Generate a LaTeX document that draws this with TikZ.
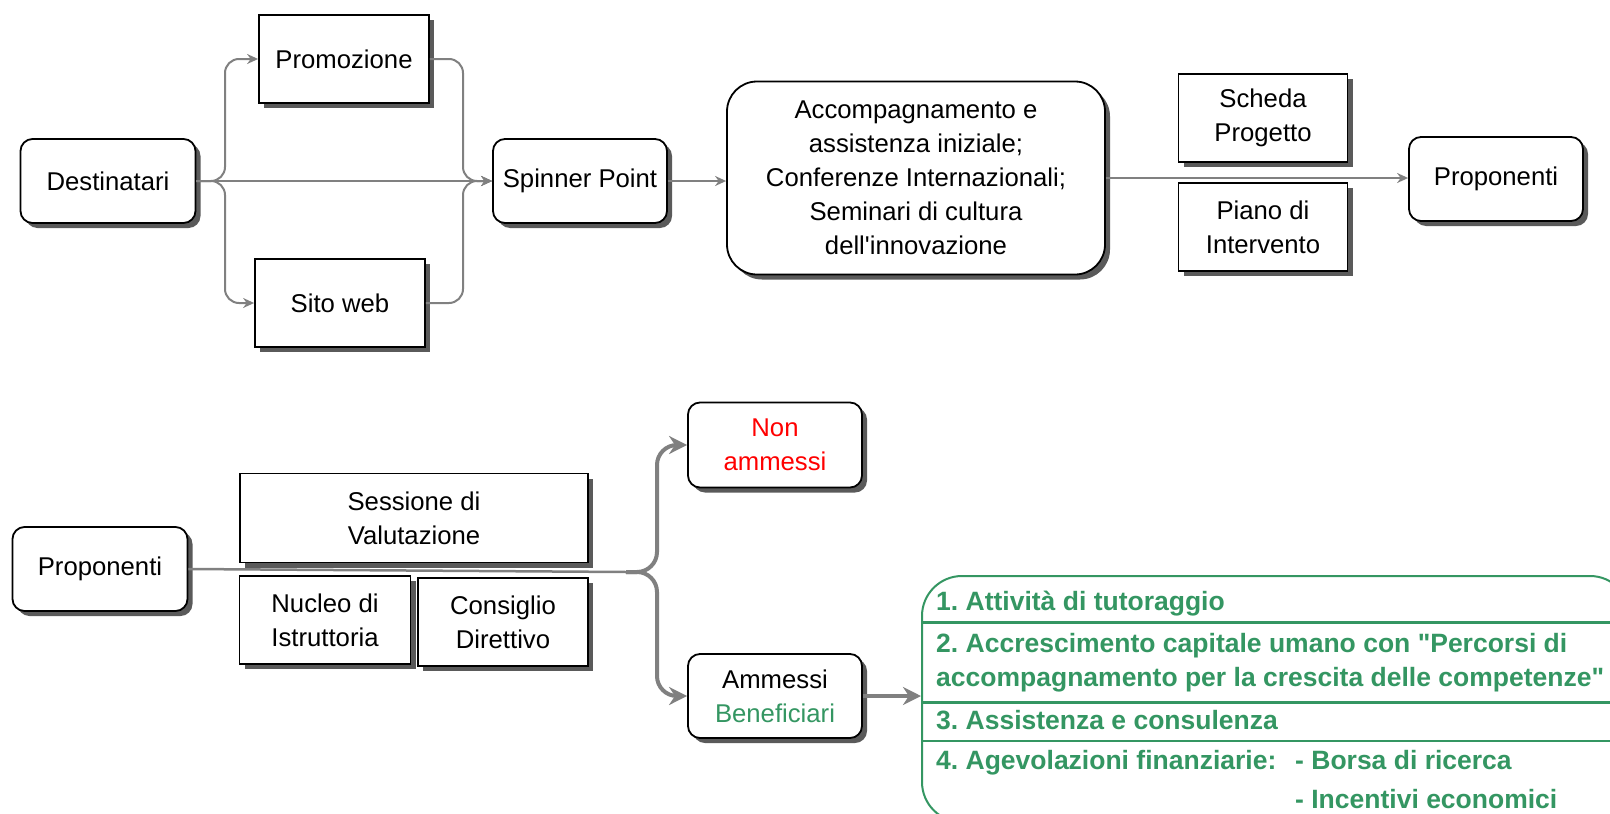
\documentclass[tikz,border=0pt]{standalone}
\usepackage{fontspec}
\setmainfont{Liberation Sans}
\usepackage{tikz}
\usetikzlibrary{arrows,arrows.meta,shadows}
\definecolor{linegray}{RGB}{128,128,128}
\definecolor{shadegray}{RGB}{90,90,90}
\definecolor{okgreen}{RGB}{52,150,98}
\tikzset{>={Stealth[length=11pt,width=10pt]},
         every node/.style={font=\fontsize{25.7}{34}\selectfont,align=center,inner sep=0pt},
         box/.style={draw,line width=1.8pt,fill=white,
           drop shadow={shadow xshift=5pt,shadow yshift=-5pt,fill=shadegray,opacity=1}},
         rbox/.style={box,rounded corners=12pt},
         flow/.style={->,draw=linegray,line width=2pt,rounded corners=14pt},
         bigflow/.style={-{Stealth[length=18pt,width=18pt]},draw=linegray,line width=4pt,rounded corners=20pt},
         item/.style={anchor=base west,align=left,text=okgreen,font=\fontsize{26.5}{34}\selectfont\bfseries}}

\begin{document}
\frenchspacing
\begin{tikzpicture}[x=1pt,y=-1pt]
\clip (0,0) rectangle (1610,814);
\node[rbox,minimum width=175pt,minimum height=84pt] (dest) at (108,181) {Destinatari};
\node[box,minimum width=170pt,minimum height=88pt] (promo) at (344,59) {Promozione};
\node[box,minimum width=170pt,minimum height=88pt] (sito) at (340,303) {Sito web};
\node[rbox,minimum width=174pt,minimum height=84pt] (spin) at (580,181) {Spinner Point};
\node[box,rounded corners=30pt,minimum width=378pt,minimum height=193pt] (accomp) at (916,178)
  {Accompagnamento e\\assistenza iniziale;\\Conferenze Internazionali;\\Seminari di cultura\\dell\textquotesingle innovazione};
\node[box,minimum width=169pt,minimum height=88pt] (scheda) at (1263,118) {Scheda\\Progetto};
\node[box,minimum width=169pt,minimum height=88pt] (piano) at (1263,227) {Piano di\\Intervento};
\node[rbox,minimum width=174pt,minimum height=84pt] (propA) at (1496,179) {Proponenti};

\node[rbox,minimum width=175pt,minimum height=84pt] (propB) at (100,569) {Proponenti};
\node[box,minimum width=348pt,minimum height=89pt] (sess) at (414,518) {Sessione di\\Valutazione};
\node[box,minimum width=171pt,minimum height=88pt] (nucleo) at (325,620) {Nucleo di\\Istruttoria};
\node[box,minimum width=170pt,minimum height=88pt] (consiglio) at (503,622) {Consiglio\\Direttivo};
\node[rbox,minimum width=174pt,minimum height=85pt,text=red] (nonamm) at (775,445) {Non\\ammessi};
\node[rbox,minimum width=174pt,minimum height=84pt] (amm) at (775,696) {Ammessi\\\textcolor{okgreen}{Beneficiari}};
\node[draw=okgreen,line width=2pt,rounded corners=40pt,minimum width=708pt,minimum height=246pt] (panel) at (1276,699) {};

\draw[okgreen,line width=3pt] (922,622) -- (1640,622);
\draw[okgreen,line width=3pt] (922,702) -- (1640,702);
\draw[okgreen,line width=2pt] (922,741) -- (1640,741);
\node[item] (act1) at (936,610) {1. Attività di tutoraggio};
\node[item] (act2) at (936,686) {2. Accrescimento capitale umano con \textquotedbl Percorsi di\\accompagnamento per la crescita delle competenze\textquotedbl};
\node[item] (act3) at (936,729) {3. Assistenza e consulenza};
\node[item] (act4) at (936,769) {4. Agevolazioni finanziarie:};
\node[item] (borsa) at (1295,769) {- Borsa di ricerca};
\node[item] (incent) at (1295,808) {- Incentivi economici};

\coordinate (ljoin) at (225,181);
\coordinate (rjoin) at (463,181);
\coordinate (split) at (626,572);
\coordinate (fork) at (657,572);
\draw[flow] (dest.east) -- (ljoin) |- (promo.west);
\draw[flow] (dest.east) -- (ljoin) |- (sito.west);
\draw[flow] (promo.east) -| (rjoin) -- (spin.west);
\draw[flow] (sito.east) -| (rjoin) -- (spin.west);
\draw[flow] (dest.east) -- (spin.west);
\draw[flow] (spin.east) -- (spin.east -| accomp.west);
\draw[flow] (accomp.east) -- (accomp.east -| propA.west);
\draw[draw=linegray,line width=2.5pt] (propB.east) -- (split);
\draw[bigflow] (split) -- (fork) |- (nonamm.west);
\draw[bigflow] (split) -- (fork) |- (amm.west);
\draw[bigflow] (amm.east) -- (amm.east -| panel.west);
\end{tikzpicture}
\end{document}
